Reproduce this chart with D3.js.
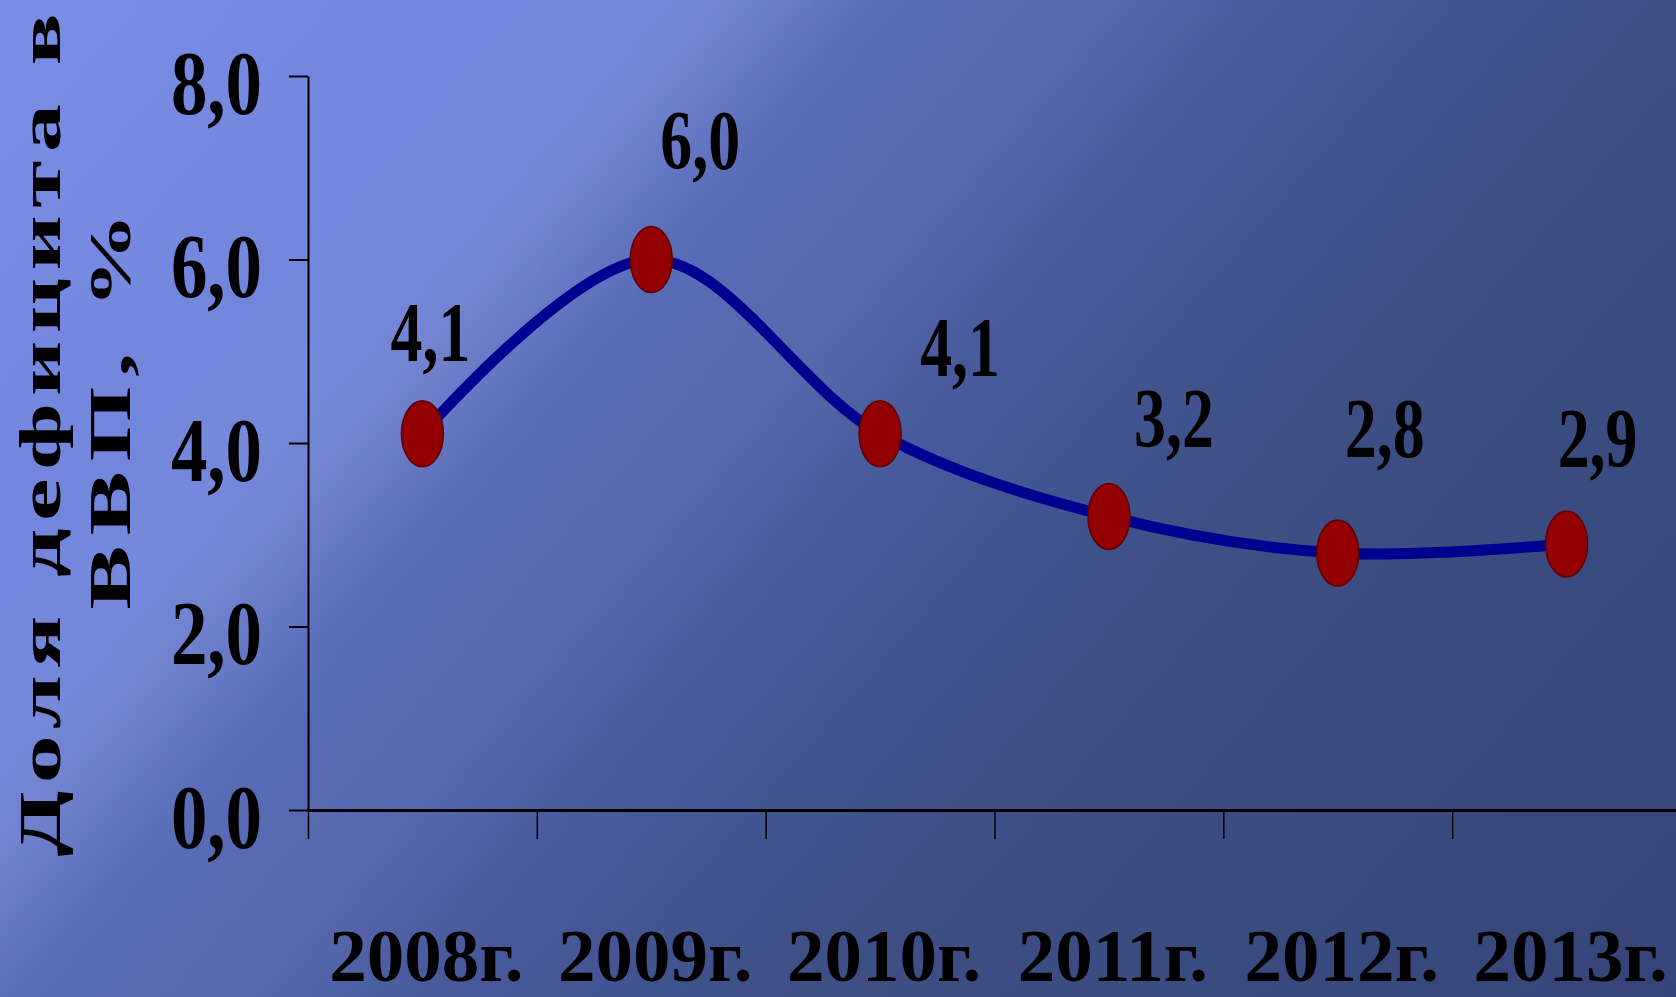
<!DOCTYPE html>
<html>
<head>
<meta charset="utf-8">
<script src="https://cdn.jsdelivr.net/npm/d3@7"></script>
<style>
  html, body { margin: 0; padding: 0; overflow: hidden; background: #4a5c9c; }
  svg { display: block; }
  text { font-family: "Times New Roman", "Liberation Serif", serif; font-weight: bold; fill: #000; }
</style>
</head>
<body>
<div id="chart"></div>
<script>
// chart data
const years = ['2008г.', '2009г.', '2010г.', '2011г.', '2012г.', '2013г.'];
const deficit = [4.1, 6.0, 4.1, 3.2, 2.8, 2.9];
const yTicks = [0, 2, 4, 6, 8];
const titleLines = ['Доля дефицита в', 'ВВП, %'];

const width = 1676;
const height = 997;

// hand placed data labels, like in the original (dx, dy from the point)
const labelNudge = [[8, -73], [49, -91], [80, -58], [65, -69], [47, -96], [31, -77]];

const svg = d3.select('#chart')
  .append('svg')
  .attr('width', width)
  .attr('height', height);

// background: light upper-left, dark to the right
const defs = svg.append('defs');
const bg = defs.append('linearGradient')
  .attr('id', 'bg')
  .attr('gradientUnits', 'userSpaceOnUse')
  .attr('x1', 0).attr('y1', 0)
  .attr('x2', 1451).attr('y2', 1257);
[[0, '#7a8ee6'], [0.25, '#7084da'], [0.34, '#5a6dba'], [0.52, '#47599a'], [0.66, '#3d4f84'], [1, '#35457a']]
  .forEach(([o, c]) => bg.append('stop').attr('offset', o).attr('stop-color', c));

const streak = defs.append('linearGradient')
  .attr('id', 'streak')
  .attr('gradientUnits', 'userSpaceOnUse')
  .attr('x1', 0).attr('y1', 0)
  .attr('x2', 1451).attr('y2', 1257);
[[0.2, 0], [0.29, 0.07], [0.36, 0], [0.44, 0.04], [0.5, 0]]
  .forEach(([o, a]) => streak.append('stop').attr('offset', o).attr('stop-color', '#fff').attr('stop-opacity', a));

svg.append('rect').attr('width', width).attr('height', height).attr('fill', 'url(#bg)');
svg.append('rect').attr('width', width).attr('height', height).attr('fill', 'url(#streak)');

// scales
const x = d3.scaleBand().domain(years).range([308, 1681]).padding(0);
const xEdge = d3.scaleLinear().domain([0, years.length]).range([308, 1681]);
const y = d3.scaleLinear().domain([0, 8]).range([810, 76]);

// y axis
const yAxis = svg.append('g')
  .attr('transform', 'translate(308,0)')
  .call(d3.axisLeft(y).tickValues(yTicks).tickSize(19).tickSizeOuter(0)
    .tickFormat((d) => d3.format('.1f')(d).replace('.', ',')));
yAxis.select('.domain').attr('stroke', '#000').attr('stroke-width', 2);
yAxis.selectAll('.tick line').attr('stroke', '#000').attr('stroke-width', 2);
yAxis.selectAll('.tick text')
  .attr('x', 0).attr('dy', 0)
  .attr('transform', 'translate(-46,37) scale(0.81,1)')
  .attr('text-anchor', 'end')
  .style('font-size', '90px')
  .attr('fill', '#000');

// x axis: ticks sit between categories
const xAxis = svg.append('g')
  .attr('transform', 'translate(0,810)')
  .call(d3.axisBottom(xEdge).tickValues(d3.range(years.length)).tickSize(29).tickSizeOuter(0).tickFormat(''));
xAxis.select('.domain').attr('stroke', '#000').attr('stroke-width', 3);
xAxis.selectAll('.tick line').attr('stroke', '#000').attr('stroke-width', 1.5);

const xLabels = svg.append('g')
  .attr('transform', 'translate(0,810)')
  .call(d3.axisBottom(x).tickSize(0));
xLabels.select('.domain').remove();
xLabels.selectAll('.tick text')
  .attr('y', 171).attr('dy', 0)
  .attr('transform', 'translate(4,0)')
  .style('font-size', '75px')
  .attr('fill', '#000');

// y axis title, two rotated lines, stretched along the text
const titlePos = [[60, 435, 527], [130, 411, 248]];
svg.append('g')
  .selectAll('text')
  .data(titleLines)
  .join('text')
  .attr('transform', (d, i) => `translate(${titlePos[i][0]},${titlePos[i][1]}) rotate(-90) scale(1.6,1)`)
  .attr('text-anchor', 'middle')
  .attr('textLength', (d, i) => titlePos[i][2])
  .attr('lengthAdjust', 'spacing')
  .style('font-size', '60px')
  .text((d) => d);

// smoothed line
const points = years.map((yr, i) => [x(yr) + x.bandwidth() / 2, y(deficit[i])]);
svg.append('path')
  .datum(points)
  .attr('fill', 'none')
  .attr('stroke', '#000090')
  .attr('stroke-width', 11)
  .attr('stroke-linejoin', 'round')
  .attr('d', d3.line().curve(d3.curveCatmullRom.alpha(0.5)));

// markers
svg.append('g')
  .selectAll('ellipse')
  .data(points)
  .join('ellipse')
  .attr('cx', (d) => d[0])
  .attr('cy', (d) => d[1])
  .attr('rx', 21)
  .attr('ry', 33)
  .attr('fill', '#930000')
  .attr('stroke', '#5e0000')
  .attr('stroke-width', 1.5);

// data labels
svg.append('g')
  .selectAll('text')
  .data(deficit)
  .join('text')
  .attr('transform', (d, i) => `translate(${points[i][0] + labelNudge[i][0]},${points[i][1] + labelNudge[i][1]}) scale(0.76,1)`)
  .attr('text-anchor', 'middle')
  .style('font-size', '84px')
  .text((d) => d3.format('.1f')(d).replace('.', ','));
</script>
</body>
</html>
